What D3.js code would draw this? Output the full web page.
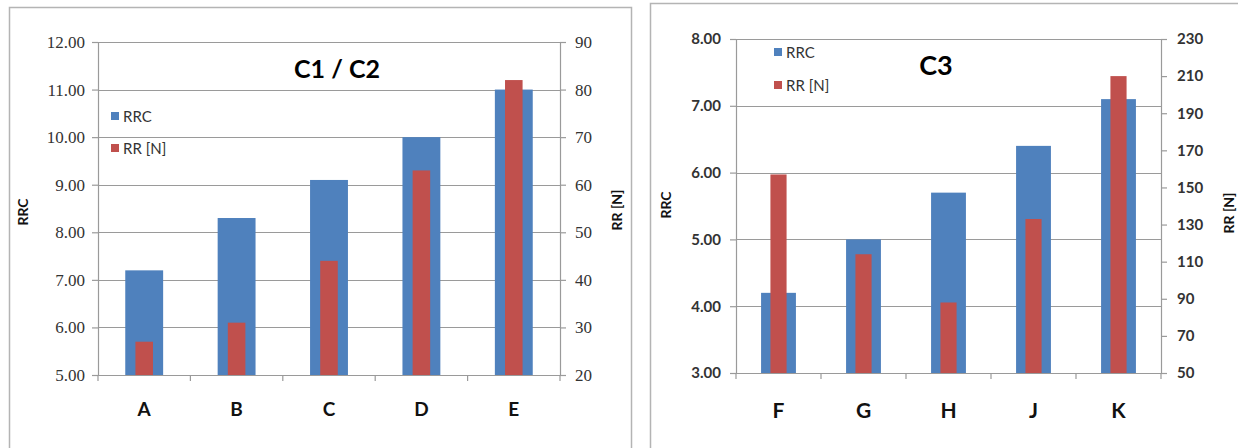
<!DOCTYPE html>
<html>
<head>
<meta charset="utf-8">
<script src="https://cdn.jsdelivr.net/npm/d3@7"></script>
<style>
  html, body { margin: 0; padding: 0; background: #fff; }
  svg { display: block; }
</style>
</head>
<body>
<svg id="chart" width="1238" height="448"></svg>
<script>
// Panel 1: C1 / C2
const catsLeft = ["A", "B", "C", "D", "E"];
const rrcLeft = [7.2, 8.3, 9.1, 10.0, 11.0];
const rrLeft = [27, 31, 44, 63, 82];
const rrcTicksLeft = [5, 6, 7, 8, 9, 10, 11, 12];
const rrTicksLeft = [20, 30, 40, 50, 60, 70, 80, 90];

// Panel 2: C3
const catsRight = ["F", "G", "H", "J", "K"];
const rrcRight = [4.2, 5.0, 5.7, 6.4, 7.1];
const rrRight = [157, 114, 88, 133, 210];
const rrcTicksRight = [3, 4, 5, 6, 7, 8];
const rrTicksRight = [50, 70, 90, 110, 130, 150, 170, 190, 210, 230];

const seriesNames = ["RRC", "RR [N]"];
const BLUE = "#4F81BD", RED = "#C0504D";

const svg = d3.select("#chart");

function drawPanel(p) {
  const g = svg.append("g");

  // frame
  g.append("rect")
    .attr("x", p.frame[0] + 0.5).attr("y", p.frame[1] + 0.5)
    .attr("width", p.frame[2]).attr("height", p.frame[3])
    .attr("fill", "#fff").attr("stroke", "#b4b4b4").attr("stroke-width", 1.5);

  const x = d3.scaleBand().domain(p.cats).range([p.x0, p.x1]);
  const yL = d3.scaleLinear().domain(d3.extent(p.lTicks)).range([p.yB, p.yT]);
  const yR = d3.scaleLinear().domain(d3.extent(p.rTicks)).range([p.yB, p.yT]);

  // horizontal gridlines
  g.append("g").selectAll("line").data(p.lTicks).join("line")
    .attr("x1", p.x0).attr("x2", p.x1)
    .attr("y1", d => Math.round(yL(d)) + 0.5).attr("y2", d => Math.round(yL(d)) + 0.5)
    .attr("stroke", "#9a9a9a").attr("stroke-width", 1.2);

  // bars: RRC wide (left axis), RR narrow (right axis), both centred in band
  const bw = x.bandwidth();
  g.append("g").selectAll("rect").data(p.cats).join("rect")
    .attr("x", (d) => x(d) + bw / 2 - bw * 0.205)
    .attr("width", bw * 0.41)
    .attr("y", (d, i) => yL(p.rrc[i]))
    .attr("height", (d, i) => p.yB - yL(p.rrc[i]))
    .attr("fill", BLUE);
  g.append("g").selectAll("rect").data(p.cats).join("rect")
    .attr("x", (d) => x(d) + bw / 2 - bw * 0.095)
    .attr("width", bw * 0.19)
    .attr("y", (d, i) => yR(p.rr[i]))
    .attr("height", (d, i) => p.yB - yR(p.rr[i]))
    .attr("fill", RED);

  // axes
  const axL = g.append("g").attr("transform", `translate(${p.x0},0)`)
    .call(d3.axisLeft(yL).tickValues(p.lTicks).tickSize(6).tickPadding(p.lPad).tickFormat(d3.format(".2f")));
  const axR = g.append("g").attr("transform", `translate(${p.x1},0)`)
    .call(d3.axisRight(yR).tickValues(p.rTicks).tickSize(6).tickPadding(p.rPad).tickFormat(d3.format("d")));
  const axB = g.append("g").attr("transform", `translate(0,${p.yB})`)
    .call(d3.axisBottom(x).tickSize(0).tickPadding(p.bPad));
  // band boundary ticks on the category axis
  g.append("g").selectAll("line").data(d3.range(p.cats.length + 1)).join("line")
    .attr("x1", i => p.x0 + i * bw).attr("x2", i => p.x0 + i * bw)
    .attr("y1", p.yB).attr("y2", p.yB + 6)
    .attr("stroke", "#9a9a9a").attr("stroke-width", 1.2);

  [axL, axR, axB].forEach(a => {
    a.selectAll("path.domain").attr("stroke", "#9a9a9a").attr("stroke-width", 1.2);
    a.selectAll(".tick line").attr("stroke", "#9a9a9a").attr("stroke-width", 1.2);
  });
  [axL, axR].forEach(a => a.selectAll("text")
    .attr("font-family", p.tickFont).attr("font-size", p.tickSize)
    .attr("font-weight", p.tickWeight).attr("fill", "#333"));
  axB.select("path.domain").attr("d", `M${p.x0},0.5H${p.x1}`);
  axB.selectAll("text")
    .attr("font-family", "Lato, 'Open Sans', sans-serif").attr("font-size", p.catSize)
    .attr("font-weight", "bold").attr("fill", "#111");

  // axis titles
  g.append("text").attr("transform", `translate(${p.lTitle[0]},${p.lTitle[1]}) rotate(-90)`)
    .attr("text-anchor", "middle").attr("dominant-baseline", "central")
    .attr("font-family", "Lato, 'Open Sans', sans-serif").attr("font-size", 14)
    .attr("font-weight", "bold").attr("fill", "#111").text("RRC");
  g.append("text").attr("transform", `translate(${p.rTitle[0]},${p.rTitle[1]}) rotate(-90)`)
    .attr("text-anchor", "middle").attr("dominant-baseline", "central")
    .attr("font-family", "Lato, 'Open Sans', sans-serif").attr("font-size", 14)
    .attr("font-weight", "bold").attr("fill", "#111").text("RR [N]");

  // chart title
  g.append("text").attr("x", p.title[0]).attr("y", p.title[1])
    .attr("text-anchor", "middle").attr("dominant-baseline", "central")
    .attr("font-family", "Lato, 'Open Sans', sans-serif").attr("font-size", p.titleSize)
    .attr("font-weight", "bold").attr("fill", "#000").text(p.titleText);

  // legend
  const lg = g.append("g").selectAll("g").data(seriesNames).join("g")
    .attr("transform", (d, i) => `translate(${p.legend[0]},${p.legend[1] + i * p.legend[2]})`);
  lg.append("rect").attr("x", 0).attr("y", -4).attr("width", 8).attr("height", 8)
    .attr("fill", (d, i) => i === 0 ? BLUE : RED);
  lg.append("text").attr("x", 12).attr("y", 0).attr("dominant-baseline", "central")
    .attr("font-family", "Lato, 'Open Sans', sans-serif").attr("font-size", 15)
    .attr("fill", "#333").text(d => d);
}

drawPanel({
  frame: [9, 7, 622, 470],
  cats: catsLeft, rrc: rrcLeft, rr: rrLeft, lTicks: rrcTicksLeft, rTicks: rrTicksLeft,
  x0: 98, x1: 560, yT: 42, yB: 375,
  lPad: 7, rPad: 9, bPad: 28, catSize: 19,
  tickFont: "'Liberation Serif', serif", tickSize: 17, tickWeight: "normal",
  lTitle: [22, 212], rTitle: [616, 210],
  title: [337, 68], titleText: "C1 / C2", titleSize: 25,
  legend: [111, 116, 32]
});

drawPanel({
  frame: [650, 3, 640, 470],
  cats: catsRight, rrc: rrcRight, rr: rrRight, lTicks: rrcTicksRight, rTicks: rrTicksRight,
  x0: 736, x1: 1161, yT: 39, yB: 373,
  lPad: 9, rPad: 10, bPad: 30, catSize: 21,
  tickFont: "Lato, 'Open Sans', sans-serif", tickSize: 15, tickWeight: "bold",
  lTitle: [665, 205], rTitle: [1228, 213],
  title: [936, 64], titleText: "C3", titleSize: 27,
  legend: [774, 52, 33]
});
</script>
</body>
</html>
